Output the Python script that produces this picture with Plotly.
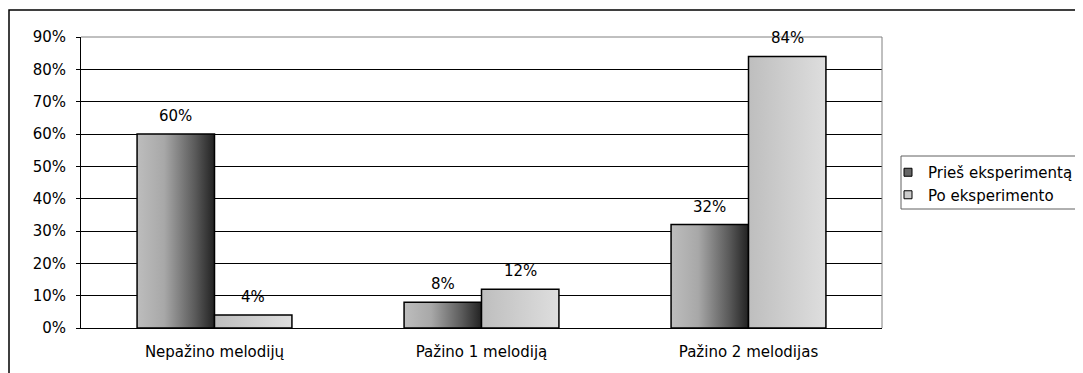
import plotly.graph_objects as go

categories = ["Nepažino melodijų", "Pažino 1 melodiją", "Pažino 2 melodijas"]
series_names = ["Prieš eksperimentą", "Po eksperimento"]
before = [60, 8, 32]
after = [4, 12, 84]
y_ticks = [0, 10, 20, 30, 40, 50, 60, 70, 80, 90]
y_tick_labels = [f"{v}%" for v in y_ticks]

FONT = "DejaVu Sans, Verdana, sans-serif"
FS = 15
w = 0.29
xs = list(range(len(categories)))

grad = [
    [[0, "#bdbdbd"], [0.35, "#a8a8a8"], [0.75, "#5a5a5a"], [1, "#222222"]],
    [[0, "#bebebe"], [1, "#dedede"]],
]
legend_col = ["#666666", "#cccccc"]
offsets = [-w, 0]

# plot area in page pixels (page has an 8px body margin)
PL, PR, PT, PB = 81, 882, 37, 328
PW, PH = PR - PL, PB - PT

def px(x):
    return (x - PL) / PW

def py(y):
    return (PB - y) / PH

fig = go.Figure()
annotations = []
for s, vals in enumerate([before, after]):
    for i, v in zip(xs, vals):
        x0 = i + offsets[s]
        x1 = x0 + w
        fig.add_trace(go.Scatter(
            x=[x0, x1, x1, x0, x0], y=[0, 0, v, v, 0],
            mode="lines", fill="toself",
            fillgradient=dict(type="horizontal", colorscale=grad[s]),
            line=dict(color="black", width=1.5),
            showlegend=False, hoverinfo="skip",
        ))
        annotations.append(dict(
            x=x0 + w / 2, y=v, xref="x", yref="y", text=f"{v}%",
            showarrow=False, yanchor="bottom", yshift=7,
            font=dict(family=FONT, size=FS, color="black"),
        ))

for s, name in enumerate(series_names):
    fig.add_trace(go.Scatter(
        x=[None], y=[None], mode="markers", name=name,
        marker=dict(symbol="square", size=8, color=legend_col[s],
                    line=dict(color="black", width=1)),
    ))

fig.update_layout(
    width=1075, height=365,
    margin=dict(l=PL - 8, r=1083 - PR, t=PT - 8, b=373 - PB, autoexpand=False),
    paper_bgcolor="white", plot_bgcolor="white",
    font=dict(family=FONT, size=FS, color="black"),
    showlegend=True,
    legend=dict(
        x=px(888), y=py(156), xanchor="left", yanchor="top",
        bgcolor="rgba(0,0,0,0)", borderwidth=0,
        font=dict(family=FONT, size=FS, color="black"),
        itemwidth=30, tracegroupgap=0, itemsizing="trace",
    ),
    xaxis=dict(
        range=[-0.5, 2.5], tickvals=xs, ticktext=categories,
        showgrid=False, zeroline=False,
        showline=True, linecolor="black", linewidth=1,
        ticks="", tickfont=dict(family=FONT, size=FS),
        ticklabelstandoff=10,
        fixedrange=True,
    ),
    yaxis=dict(
        range=[0, 90], tickvals=y_ticks, ticktext=y_tick_labels,
        showgrid=True, gridcolor="black", gridwidth=1,
        zeroline=False, showline=True, linecolor="black", linewidth=1,
        ticks="outside", ticklen=4, tickcolor="black",
        tickfont=dict(family=FONT, size=FS),
        ticklabelstandoff=7,
        fixedrange=True,
    ),
    annotations=annotations,
    shapes=[
        dict(type="line", xref="paper", yref="paper", x0=0, x1=1, y0=1, y1=1,
             line=dict(color="#808080", width=1)),
        dict(type="line", xref="paper", yref="paper", x0=1, x1=1, y0=0, y1=1,
             line=dict(color="#808080", width=1)),
        dict(type="rect", xref="paper", yref="paper",
             x0=px(901), x1=px(1095), y0=py(209), y1=py(156),
             line=dict(color="#606060", width=1)),
        dict(type="rect", xref="paper", yref="paper",
             x0=px(9), x1=px(1095), y0=py(390), y1=py(10),
             line=dict(color="black", width=1.5)),
    ],
)

fig.write_html("out.html")
